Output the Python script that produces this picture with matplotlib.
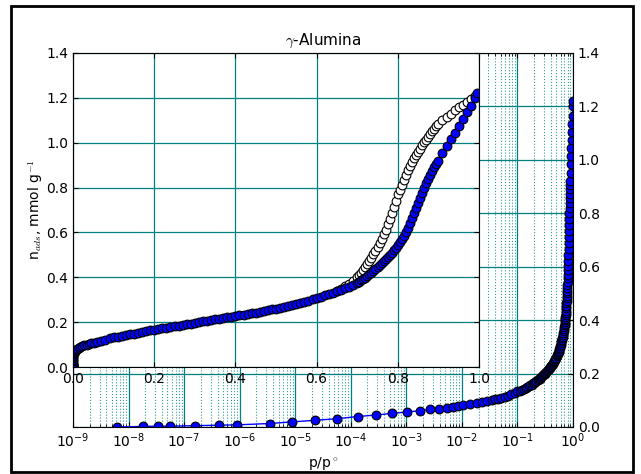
import numpy as np
import matplotlib
matplotlib.use('Agg')
import matplotlib.pyplot as plt
from matplotlib.patches import Rectangle
from matplotlib.ticker import LogLocator, MultipleLocator

plt.rcParams['font.size'] = 10
plt.rcParams['mathtext.fontset'] = 'cm'

## adsorption branch, p/p0 and n_ads (mmol/g)
p_ads = [6.1e-9, 1.85e-8, 3.4e-8, 5.6e-8, 1.57e-7, 4.3e-7, 9.1e-7, 3.5e-6,
         8.6e-6, 2.3e-5, 5.6e-5, 1.33e-4, 2.9e-4, 5.6e-4, 1.04e-3, 1.76e-3,
         2.7e-3, 3.9e-3, 5.3e-3, 7.0e-3, 8.6e-3,
         0.0106, 0.014, 0.0184, 0.0226, 0.0279, 0.0343, 0.039, 0.0447, 0.051,
         0.059, 0.068, 0.078, 0.09,
         0.10, 0.11, 0.12, 0.13, 0.14, 0.15, 0.16, 0.17, 0.18, 0.19,
         0.20, 0.21, 0.22, 0.23, 0.24, 0.25, 0.26, 0.27, 0.28, 0.29,
         0.30, 0.31, 0.32, 0.33, 0.34, 0.35, 0.36, 0.37, 0.38, 0.39,
         0.40, 0.41, 0.42, 0.43, 0.44, 0.45, 0.46, 0.47, 0.48, 0.49,
         0.50, 0.51, 0.52, 0.53, 0.54, 0.55, 0.56, 0.57, 0.58, 0.59,
         0.60, 0.61, 0.62, 0.63, 0.64, 0.65, 0.66, 0.67, 0.68, 0.69,
         0.70, 0.705, 0.71, 0.715, 0.72, 0.725, 0.73, 0.735, 0.74, 0.745,
         0.75, 0.755, 0.76, 0.765, 0.77, 0.775, 0.78, 0.785, 0.79, 0.795,
         0.80, 0.805, 0.81, 0.815, 0.82, 0.825, 0.83, 0.835, 0.84, 0.845,
         0.85, 0.855, 0.86, 0.865, 0.87, 0.875, 0.88, 0.885, 0.89, 0.895,
         0.90, 0.91, 0.92, 0.93, 0.94, 0.95, 0.96, 0.97, 0.98, 0.99, 0.995]
n_ads = [0.000, 0.002, 0.003, 0.003, 0.005, 0.007, 0.008, 0.013,
         0.019, 0.025, 0.031, 0.039, 0.045, 0.051, 0.056, 0.061,
         0.066, 0.069, 0.072, 0.076, 0.079,
         0.081, 0.085, 0.089, 0.092, 0.096, 0.100, 0.103, 0.106, 0.109,
         0.113, 0.117, 0.122, 0.128,
         0.133, 0.136, 0.139, 0.143, 0.146, 0.149, 0.153, 0.156, 0.159, 0.163,
         0.166, 0.169, 0.172, 0.175, 0.178, 0.181, 0.184, 0.187, 0.190, 0.193,
         0.197, 0.200, 0.203, 0.206, 0.209, 0.212, 0.215, 0.218, 0.221, 0.224,
         0.227, 0.230, 0.233, 0.236, 0.240, 0.243, 0.246, 0.250, 0.253, 0.257,
         0.260, 0.264, 0.268, 0.272, 0.276, 0.281, 0.286, 0.291, 0.296, 0.302,
         0.308, 0.314, 0.320, 0.326, 0.332, 0.338, 0.344, 0.351, 0.358, 0.366,
         0.375, 0.380, 0.386, 0.392, 0.399, 0.406, 0.413, 0.420, 0.428, 0.436,
         0.445, 0.454, 0.463, 0.472, 0.481, 0.490, 0.500, 0.510, 0.520, 0.531,
         0.543, 0.556, 0.570, 0.586, 0.603, 0.622, 0.643, 0.665, 0.688, 0.710,
         0.732, 0.755, 0.778, 0.800, 0.820, 0.840, 0.858, 0.874, 0.890, 0.905,
         0.920, 0.952, 0.984, 1.015, 1.045, 1.075, 1.105, 1.135, 1.165, 1.200, 1.220]

## desorption branch
p_des = [0.65, 0.66, 0.67, 0.68, 0.69,
         0.70, 0.705, 0.71, 0.715, 0.72, 0.725, 0.73, 0.735, 0.74, 0.745,
         0.75, 0.755, 0.76, 0.765, 0.77, 0.775, 0.78, 0.785, 0.79, 0.795,
         0.80, 0.805, 0.81, 0.815, 0.82, 0.825, 0.83, 0.835, 0.84, 0.845,
         0.85, 0.855, 0.86, 0.865, 0.87, 0.875, 0.88, 0.885, 0.89, 0.895,
         0.90, 0.91, 0.92, 0.93, 0.94, 0.95, 0.96, 0.97, 0.98, 0.99]
n_des = [0.339, 0.349, 0.360, 0.372, 0.385,
         0.400, 0.410, 0.421, 0.433, 0.446, 0.459, 0.472, 0.487, 0.502, 0.518,
         0.535, 0.553, 0.572, 0.592, 0.613, 0.636, 0.660, 0.688, 0.715, 0.742,
         0.770, 0.790, 0.812, 0.835, 0.857, 0.877, 0.895, 0.912, 0.930, 0.946,
         0.960, 0.974, 0.988, 1.001, 1.014, 1.027, 1.040, 1.052, 1.063, 1.073,
         1.083, 1.100, 1.116, 1.130, 1.145, 1.158, 1.170, 1.183, 1.196, 1.210]

grid_col = '#008080'
msz = 6.3

fig = plt.figure(figsize=(6.41, 4.74), dpi=100)
fig.patch.set_facecolor('white')

# black frame round the whole figure
fig.patches.append(Rectangle((0.0172, 0.0042), 0.970, 0.983, transform=fig.transFigure,
                             fill=False, edgecolor='black', linewidth=2.0))

## outer axes: log scale
ax = fig.add_axes([0.1139, 0.0992, 0.780, 0.789])
ax.semilogx(p_ads, n_ads, 'b-', marker='o', mfc='blue', mec='black',
            mew=0.8, ms=msz, lw=1)
ax.set_xlim(1e-9, 1.)
ax.set_ylim(0., 1.4)
ax.yaxis.set_major_locator(MultipleLocator(0.2))
ax.xaxis.set_major_locator(LogLocator(base=10, numticks=12))
ax.xaxis.set_minor_locator(LogLocator(base=10, subs=np.arange(2, 10), numticks=12))
ax.grid(True, which='major', color=grid_col, ls='-', lw=0.9)
ax.grid(True, which='minor', axis='x', color=grid_col, ls=':', lw=0.8, alpha=0.8)
ax.tick_params(which='both', direction='in', top=True, right=True,
               labelleft=False, labelright=True)
ax.set_xlabel(r'p/p$^\circ$')
ax.set_title(r'$\gamma$-Alumina', fontsize=11)

## inset: linear scale with hysteresis
ins = fig.add_axes([0.1139, 0.2257, 0.6334, 0.6625])
ins.set_facecolor('white')
ins.plot(p_des, n_des, 'o', mfc='white', mec='black', mew=0.8, ms=msz)
ins.plot(p_ads, n_ads, 'o', mfc='blue', mec='black', mew=0.8, ms=msz)
ins.set_xlim(0., 1.)
ins.set_ylim(0., 1.4)
ins.xaxis.set_major_locator(MultipleLocator(0.2))
ins.yaxis.set_major_locator(MultipleLocator(0.2))
ins.grid(True, color=grid_col, ls='-', lw=0.9)
ins.tick_params(direction='in', top=True, right=True)
ins.set_ylabel(r'n$_{ads}$, mmol g$^{-1}$', labelpad=1)

fig.savefig('out.png', dpi=100)
